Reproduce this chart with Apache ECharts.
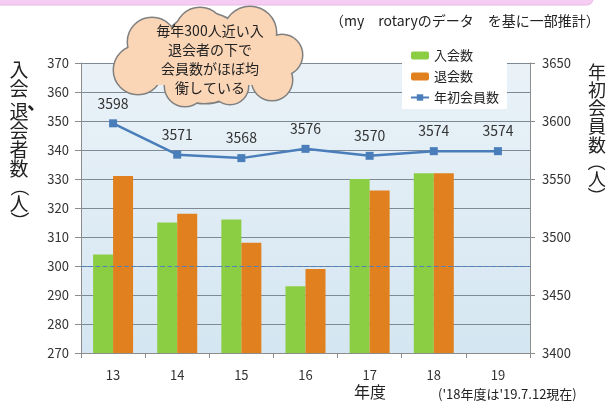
<!DOCTYPE html>
<html lang="ja">
<head>
<meta charset="UTF-8">
<script src="https://cdn.jsdelivr.net/npm/echarts@6/dist/echarts.min.js"></script>
<style>
  html, body { margin: 0; padding: 0; background: #fff; }
  #chart { width: 610px; height: 406px; }
</style>
</head>
<body>
<div id="chart"></div>
<script>
// data
var years = ['13', '14', '15', '16', '17', '18', '19'];
var joined = [304, 315, 316, 293, 330, 332, null];     // 入会数
var left = [331, 318, 308, 299, 326, 332, null];       // 退会数
var members = [3598, 3571, 3568, 3576, 3570, 3574, 3574]; // 年初会員数
var refLine = 300;

var FONT = '"Noto Sans CJK JP", "Noto Sans", sans-serif';

// cloud bumps (cx, cy, r)
var bumps = [
  [152, 42, 24], [200, 32, 24], [250, 33, 26], [282, 55, 20],
  [272, 80, 20], [230, 86, 18], [185, 86, 20], [138, 70, 24], [205, 58, 45]
];

function cloud() {
  var kids = [];
  bumps.forEach(function (b) {
    kids.push({ type: 'circle', z: 100, shape: { cx: b[0], cy: b[1], r: b[2] },
      style: { fill: '#fbd6b6', stroke: '#808080', lineWidth: 3 } });
  });
  bumps.forEach(function (b) {
    kids.push({ type: 'circle', z: 101, shape: { cx: b[0], cy: b[1], r: b[2] },
      style: { fill: '#fbd6b6' } });
  });
  kids.push({ type: 'rect', z: 101, shape: { x: 140, y: 35, width: 135, height: 50 },
    style: { fill: '#fbd6b6' } });
  kids.push({ type: 'text', z: 102, x: 210, y: 59,
    style: { text: '毎年300人近い入\n退会者の下で\n会員数がほぼ均\n衡している',
      fill: '#222', font: '14px ' + FONT, lineHeight: 19, align: 'center', verticalAlign: 'middle' } });
  return kids;
}

// vertical axis titles: one glyph per element, brackets turned a quarter
function vtext(items, x, size) {
  return items.map(function (it) {
    var c = it[0], rot = (c === '（' || c === '）') ? -Math.PI / 2 : 0;
    return { type: 'text', z: 50, x: x + (it[2] || 0), y: it[1], rotation: rot,
      style: { text: c, fill: '#222', font: size + 'px ' + FONT, align: 'center', verticalAlign: 'middle' } };
  });
}

var leftName = vtext([['入', 70], ['会', 89], ['退', 112], ['会', 131], ['者', 150],
  ['数', 169], ['（', 187], ['人', 204], ['）', 221]], 19, 19);
// the comma of the left title, set at the upper right of its slot
leftName.push({ type: 'text', z: 50, left: 27, top: 93,
  style: { text: '、', fill: '#222', font: 'bold 19px ' + FONT } });
var rightName = vtext([['年', 72], ['初', 90], ['会', 108], ['員', 126], ['数', 145],
  ['（', 162], ['人', 179], ['）', 196]], 597, 18);

var chart = echarts.init(document.getElementById('chart'));

var option = {
  animation: false,
  textStyle: { fontFamily: FONT },
  grid: {
    left: 81, right: 80, top: 63, bottom: 53,
    show: true, borderWidth: 0,
    backgroundColor: new echarts.graphic.LinearGradient(0, 0, 0, 1, [
      { offset: 0, color: '#eaf2f8' }, { offset: 1, color: '#d4e6f1' }
    ])
  },
  legend: {
    orient: 'vertical',
    left: 402, top: 44,
    backgroundColor: '#fff',
    padding: [5, 8, 5, 8],
    itemWidth: 18, itemHeight: 8, itemGap: 8,
    textStyle: { fontSize: 13, color: '#222', fontFamily: FONT },
    data: ['入会数', '退会数', '年初会員数']
  },
  xAxis: {
    type: 'category',
    data: years,
    axisLine: { lineStyle: { color: '#8c8c8c' } },
    axisTick: { show: true, length: 5, lineStyle: { color: '#8c8c8c' } },
    axisLabel: { color: '#333', fontSize: 13, margin: 16 }
  },
  yAxis: [{
    type: 'value', min: 270, max: 370, interval: 10,
    axisLine: { show: true, lineStyle: { color: '#8c8c8c' } },
    axisTick: { show: true, length: 6, lineStyle: { color: '#8c8c8c' } },
    axisLabel: { color: '#333', fontSize: 13, margin: 12 },
    splitLine: { lineStyle: { color: '#7d8a96', width: 1 } }
  }, {
    type: 'value', min: 3400, max: 3650, interval: 50,
    axisLine: { show: true, lineStyle: { color: '#8c8c8c' } },
    axisTick: { show: true, length: 5, lineStyle: { color: '#8c8c8c' } },
    axisLabel: { color: '#333', fontSize: 13, margin: 12, formatter: function (v) { return String(v); } },
    splitLine: { show: false }
  }],
  series: [{
    name: '入会数', type: 'bar', data: joined,
    barWidth: 20, barGap: '0%',
    itemStyle: { color: '#8cce43' },
    markLine: {
      silent: true, symbol: 'none',
      label: { show: false },
      lineStyle: { color: '#4f81bd', type: 'dashed', width: 1.2 },
      data: [{ yAxis: refLine }]
    }
  }, {
    name: '退会数', type: 'bar', data: left,
    barWidth: 20,
    itemStyle: { color: '#e0801f' }
  }, {
    name: '年初会員数', type: 'line', yAxisIndex: 1, data: members,
    symbol: 'rect', symbolSize: 8,
    lineStyle: { color: '#4a7ebb', width: 2.5 },
    itemStyle: { color: '#4a7ebb' },
    label: { show: true, position: 'top', distance: 9, color: '#333', fontSize: 14 }
  }],
  graphic: [
    { type: 'rect', shape: { x: -10, y: -10, width: 603, height: 15, r: [0, 0, 6, 0] },
      style: { fill: '#f5cdf2', stroke: '#e9b8e6', lineWidth: 1 } },
    { type: 'text', left: 330, top: 14,
      style: { text: '（my　rotaryのデータ　を基に一部推計）', fill: '#222', font: '14px ' + FONT } },
    { type: 'text', left: 354, top: 384,
      style: { text: '年度', fill: '#222', font: '16px ' + FONT } },
    { type: 'text', left: 438, top: 388,
      style: { text: "('18年度は'19.7.12現在)", fill: '#222', font: '13px ' + FONT } }
  ].concat(leftName, rightName, cloud())
};

chart.setOption(option);
</script>
</body>
</html>
